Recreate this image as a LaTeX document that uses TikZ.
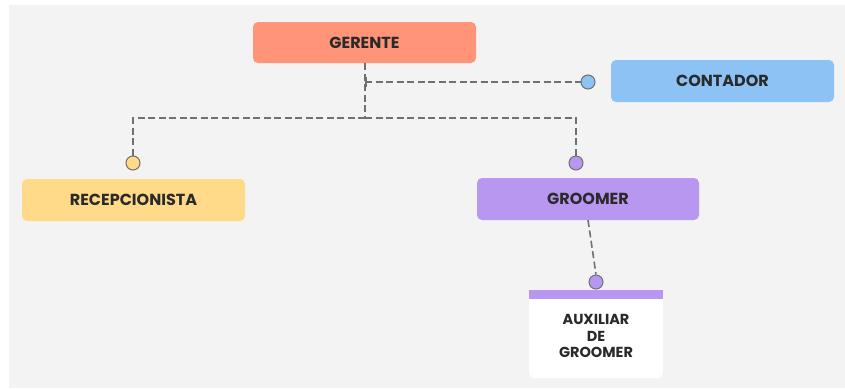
\documentclass[tikz,border=0pt]{standalone}
\usepackage{fontspec}
\setmainfont{Poppins}
\definecolor{bgc}{HTML}{F3F3F3}
\definecolor{gerc}{HTML}{FF9478}
\definecolor{conc}{HTML}{8CC2F4}
\definecolor{recc}{HTML}{FFDA88}
\definecolor{groc}{HTML}{B797F0}
\definecolor{linec}{HTML}{707070}
\definecolor{txtc}{HTML}{2A2A2A}
\begin{document}
\begin{tikzpicture}[x=1pt,y=-1pt,
  box/.style={rounded corners=5pt,inner sep=0pt,text=txtc,font=\bfseries\fontsize{16}{18}\selectfont},
  link/.style={draw=linec,line width=1.6pt,dash pattern=on 7pt off 3.5pt},
  dot/.style={circle,draw=linec,line width=1pt,minimum size=14pt,inner sep=0pt}]
\useasboundingbox (0,0) rectangle (845,388);
\fill[white] (0,0) rectangle (845,388);
\fill[bgc] (9,5) rectangle (845,388);
% boxes
\node[box,fill=gerc,minimum width=223pt,minimum height=41pt] (ger) at (364.5,42.5) {GERENTE};
\node[box,fill=conc,minimum width=223pt,minimum height=42pt] (con) at (722.5,81) {CONTADOR};
\node[box,fill=recc,minimum width=223pt,minimum height=42pt] (rec) at (133.5,200) {RECEPCIONISTA};
\node[box,fill=groc,minimum width=222pt,minimum height=42pt] (gro) at (588,199) {GROOMER};
% auxiliar box
\fill[white,rounded corners=5pt] (529,292) rectangle (663,378);
\fill[groc] (529,290) rectangle (663,299);
\node[text=txtc,font=\bfseries\fontsize{14.5}{16.5}\selectfont,align=center] (aux) at (596,336) {AUXILIAR\\DE\\GROOMER};
% dots
\node[dot,fill=conc] (dcon) at (588,82) {};
\node[dot,fill=recc] (drec) at (133,163) {};
\node[dot,fill=groc] (dgro) at (576,163) {};
\node[dot,fill=groc] (daux) at (596,282) {};
% junctions
\coordinate (j1) at (365,82);
\coordinate (j2) at (365,118);
\coordinate (jl) at (133,118);
\coordinate (jr) at (576,118);
\coordinate (gb) at (588,220);
% connectors
\draw[link] (ger.south -| j1) -- (j2);
\draw[link] (j1) -- (dcon.west);
\draw[draw=linec,line width=1.6pt] (366,77) -- (366,87);
\draw[link] (j2) -- (jl) -- (drec.north);
\draw[link] (j2) -- (jr) -- (dgro.north);
\draw[link] (gb) -- (daux.north);
\end{tikzpicture}
\end{document}
